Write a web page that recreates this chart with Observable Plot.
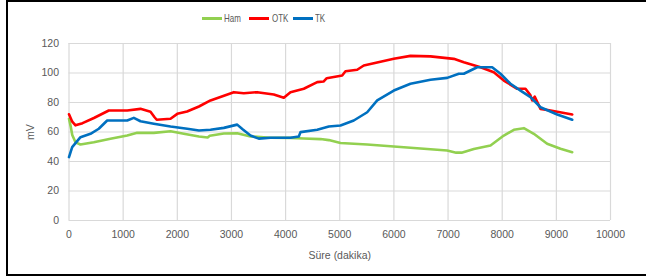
<!DOCTYPE html>
<html>
<head>
<meta charset="utf-8">
<script src="https://cdn.jsdelivr.net/npm/d3@7"></script>
<script src="https://cdn.jsdelivr.net/npm/@observablehq/plot@0.6"></script>
<style>
  html, body { margin: 0; padding: 0; background: #fff; }
  body { width: 646px; height: 280px; position: relative; overflow: hidden; font-family: "Liberation Sans", Arial, sans-serif; }
  #frame { position: absolute; left: 6px; top: 0px; width: 660px; height: 272px; border: 2.5px solid #000; box-sizing: content-box; }
  #chart { position: absolute; left: 0; top: 0; }
  .leg { position: absolute; top: 11px; height: 14px; font-size: 10.5px; color: #595959; line-height: 14px; transform: scaleX(0.76); transform-origin: left center; white-space: nowrap; }
  .sw { position: absolute; width: 20px; height: 2.5px; }
</style>
</head>
<body>
<div id="frame"></div>
<div id="chart"></div>
<div id="legend"></div>
<script>
const seriesNames = ["Ham", "OTK", "TK"];
const seriesColors = ["#92D050", "#FF0000", "#0070C0"];
const xTicks = [0, 1000, 2000, 3000, 4000, 5000, 6000, 7000, 8000, 9000, 10000];
const yTicks = [0, 20, 40, 60, 80, 100, 120];

const hamT = [0, 30, 60, 120, 212, 458, 766, 1075, 1259, 1566, 1875, 2120, 2400, 2560, 2600, 2859, 3106, 3352, 3721, 4090, 4336, 4645, 4798, 5014, 5507, 5998, 6491, 6984, 7150, 7250, 7476, 7784, 8030, 8215, 8400, 8584, 8830, 9077, 9293];
const hamV = [69, 64, 58, 53, 51.5, 53, 55.4, 57.6, 59.5, 59.4, 60.5, 58.8, 57, 56.3, 57.5, 59, 59.2, 57, 56.1, 56, 55.6, 55.2, 54.5, 52.5, 51.5, 50.2, 48.8, 47.5, 46, 46, 48.5, 50.8, 57.6, 61.5, 62.6, 58.8, 52, 48.6, 46.3];

const otkT = [0, 60, 120, 250, 460, 735, 1075, 1320, 1505, 1580, 1620, 1875, 2000, 2180, 2400, 2613, 3044, 3228, 3475, 3782, 3967, 4090, 4336, 4584, 4700, 4760, 5045, 5106, 5322, 5444, 5998, 6306, 6676, 7106, 7291, 7599, 7845, 8030, 8277, 8430, 8520, 8554, 8600, 8707, 8892, 9293];
const otkV = [72, 67, 64.5, 66, 69.5, 74.6, 74.6, 75.7, 73.8, 70, 68.3, 69, 72.3, 73.9, 77.3, 81.4, 87, 86.3, 87, 85.4, 83.2, 87, 89.3, 93.8, 94.2, 96.5, 98.3, 101.2, 102.2, 105.1, 109.6, 111.6, 111.3, 109.6, 107.3, 103.9, 100.5, 94.9, 89.3, 89.3, 85, 81.4, 84, 75.7, 74.6, 71.9];

const tkT = [0, 59, 212, 397, 550, 705, 1075, 1197, 1320, 1566, 1875, 2183, 2400, 2613, 2859, 3106, 3200, 3352, 3505, 3721, 4090, 4244, 4275, 4584, 4798, 5014, 5259, 5507, 5692, 5998, 6306, 6676, 6984, 7199, 7291, 7538, 7815, 7969, 8153, 8338, 8523, 8707, 9016, 9293];
const tkV = [43, 49.7, 56.5, 58.8, 62.2, 67.8, 67.8, 69.6, 67.3, 65.6, 63.7, 62.2, 61, 61.5, 62.8, 65, 62, 57.6, 55.5, 56.1, 56.1, 57, 59.9, 61.5, 63.7, 64.4, 67.8, 73.4, 81.4, 88.1, 92.7, 95.4, 96.7, 99.5, 99.5, 103.9, 103.9, 99.5, 92.7, 88.1, 83.6, 76.8, 71.9, 68.3];

const rows = [
  ...hamT.map((t, i) => ({series: "Ham", t, v: hamV[i]})),
  ...otkT.map((t, i) => ({series: "OTK", t, v: otkV[i]})),
  ...tkT.map((t, i) => ({series: "TK", t, v: tkV[i]}))
];

const chart = Plot.plot({
  width: 646,
  height: 280,
  marginLeft: 68.5,
  marginRight: 36,
  marginTop: 43,
  marginBottom: 60,
  style: {fontFamily: "Liberation Sans, Arial, sans-serif", fontSize: "10.5px", color: "#595959", background: "transparent"},
  x: {domain: [0, 10000]},
  y: {domain: [0, 120]},
  color: {domain: seriesNames, range: seriesColors},
  marks: [
    Plot.ruleY(yTicks, {y: d => d, stroke: "#d9d9d9", strokeWidth: 1.2}),
    Plot.ruleX(xTicks, {x: d => d, stroke: "#d9d9d9", strokeWidth: 1.2}),
    Plot.axisX({ticks: xTicks, tickSize: 0, tickPadding: 10, tickFormat: d => String(d), label: "Süre (dakika)", labelAnchor: "center", labelArrow: "none", labelOffset: 38, fill: "#595959"}),
    Plot.axisY({ticks: yTicks, tickSize: 0, tickPadding: 10, tickFormat: d => String(d), label: "mV", labelAnchor: "center", labelArrow: "none", labelOffset: 42, fill: "#595959"}),
    Plot.line(rows, {x: "t", y: "v", z: "series", stroke: "series", strokeWidth: 2.6, strokeLinejoin: "round"})
  ]
});
document.getElementById("chart").appendChild(chart);

const legendPos = [{sw: 202, tx: 224}, {sw: 249, tx: 272}, {sw: 293, tx: 315}];
const legend = document.getElementById("legend");
seriesNames.forEach((name, i) => {
  const sw = document.createElement("div");
  sw.className = "sw";
  sw.style.left = legendPos[i].sw + "px";
  sw.style.top = "17px";
  sw.style.background = seriesColors[i];
  legend.appendChild(sw);
  const tx = document.createElement("div");
  tx.className = "leg";
  tx.style.left = legendPos[i].tx + "px";
  tx.textContent = name;
  legend.appendChild(tx);
});
</script>
</body>
</html>
